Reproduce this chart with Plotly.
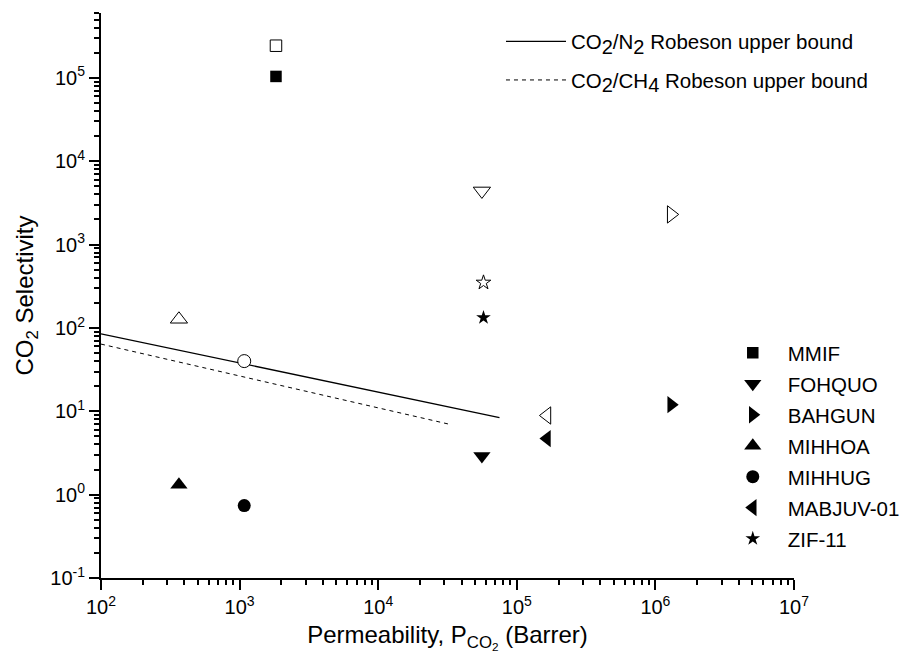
import plotly.graph_objects as go

# CO2 permeability (Barrer) and selectivities for each framework
compounds = ["MMIF", "FOHQUO", "BAHGUN", "MIHHOA", "MIHHUG", "MABJUV-01", "ZIF-11"]
permeability = [1.83e3, 5.6e4, 1.3e6, 3.65e2, 1.08e3, 1.65e5, 5.75e4]
sel_co2_n2 = [2.43e5, 4.4e3, 2.3e3, 1.27e2, 40.0, 8.9, 3.5e2]
sel_co2_ch4 = [1.04e5, 2.9, 12.0, 1.31, 0.74, 4.7, 1.33e2]
symbols = ["square", "triangle-down", "triangle-right", "triangle-up",
           "circle", "triangle-left", "star"]
sizes = [11.5, 15, 15, 15, 13, 15, 11]

# Robeson upper bounds
n2_bound_x = [100, 7.5e4]
n2_bound_y = [85, 8.4]
ch4_bound_x = [100, 3.25e4]
ch4_bound_y = [64, 7.0]

# axis ticks
x_tickvals = [1e2, 1e3, 1e4, 1e5, 1e6, 1e7]
x_ticktext = ["10<sup>2</sup>", "10<sup>3</sup>", "10<sup>4</sup>",
              "10<sup>5</sup>", "10<sup>6</sup>", "10<sup>7</sup>"]
y_tickvals = [1e-1, 1e0, 1e1, 1e2, 1e3, 1e4, 1e5]
y_ticktext = ["10<sup>-1</sup>", "10<sup>0</sup>", "10<sup>1</sup>", "10<sup>2</sup>",
              "10<sup>3</sup>", "10<sup>4</sup>", "10<sup>5</sup>"]

FONT = "Liberation Sans, Arial, sans-serif"
SUB2 = "<sub><span style='font-size:20px'>2</span></sub>"
SUB4 = "<sub><span style='font-size:20px'>4</span></sub>"

fig = go.Figure()

fig.add_trace(go.Scatter(
    x=n2_bound_x, y=n2_bound_y, mode="lines",
    line=dict(color="black", width=1.3),
    name="CO" + SUB2 + "/N" + SUB2 + " Robeson upper bound",
    legend="legend", legendgroup="n2"))
fig.add_trace(go.Scatter(
    x=ch4_bound_x, y=ch4_bound_y, mode="lines",
    line=dict(color="black", width=1, dash="4px,4px"),
    name="CO" + SUB2 + "/CH" + SUB4 + " Robeson upper bound",
    legend="legend", legendgroup="ch4"))

for i, name in enumerate(compounds):
    fig.add_trace(go.Scatter(
        x=[permeability[i]], y=[sel_co2_n2[i]], mode="markers",
        marker=dict(symbol=symbols[i], size=sizes[i], color="white",
                    line=dict(color="black", width=1)),
        showlegend=False, legend="legend2", legendgroup=name))
    fig.add_trace(go.Scatter(
        x=[permeability[i]], y=[sel_co2_ch4[i]], mode="markers",
        marker=dict(symbol=symbols[i], size=sizes[i], color="black",
                    line=dict(width=0)),
        name=name, legend="legend2", legendgroup=name))

minor_x = [m * 10 ** e for e in range(2, 7) for m in range(2, 10)]
minor_y = [m * 10 ** e for e in range(-1, 6) for m in range(2, 10) if m * 10 ** e <= 6e5]

axis_common = dict(
    type="log", showgrid=False, zeroline=False, showline=True,
    linecolor="black", linewidth=2, ticks="outside", ticklen=10, tickwidth=2,
    tickcolor="black", tickmode="array",
    tickfont=dict(family=FONT, size=20, color="black"),
)

fig.update_xaxes(
    **axis_common, range=[2, 7], tickvals=x_tickvals, ticktext=x_ticktext,
    minor=dict(tickmode="array", tickvals=minor_x, ticks="outside",
               ticklen=5, tickwidth=2, tickcolor="black"),
    title=dict(text="Permeability, P<sub>CO<sub>2</sub></sub> (Barrer)",
               font=dict(family=FONT, size=24, color="black"), standoff=9),
)
fig.update_yaxes(
    **axis_common, range=[-1, 5.778], tickvals=y_tickvals, ticktext=y_ticktext,
    minor=dict(tickmode="array", tickvals=minor_y, ticks="outside",
               ticklen=5, tickwidth=2, tickcolor="black"),
    title=dict(text="CO<sub>2</sub> Selectivity",
               font=dict(family=FONT, size=24, color="black"), standoff=10),
)

fig.update_layout(
    width=902, height=670,
    margin=dict(l=101, r=108, t=13, b=92, autoexpand=False),
    paper_bgcolor="white", plot_bgcolor="white",
    font=dict(family=FONT, color="black"),
    legend=dict(x=0.5772, y=0.985, xanchor="left", yanchor="top",
                bgcolor="rgba(0,0,0,0)", font=dict(family=FONT, size=20.5),
                tracegroupgap=9, itemwidth=60, traceorder="grouped"),
    legend2=dict(x=0.890, y=0.4336, xanchor="left", yanchor="top",
                 bgcolor="rgba(0,0,0,0)", font=dict(family=FONT, size=20.5),
                 tracegroupgap=1.3, itemwidth=60, traceorder="grouped"),
)

fig.write_html("out.html")
